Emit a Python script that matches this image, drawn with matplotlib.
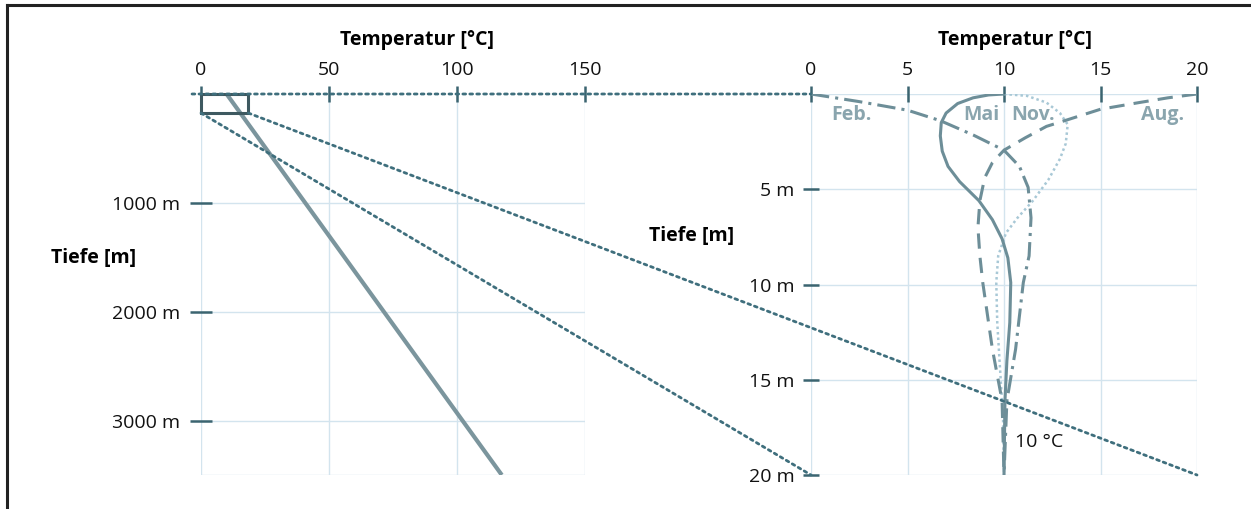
import matplotlib
matplotlib.use('Agg')
import matplotlib.pyplot as plt
from matplotlib.patches import Rectangle, ConnectionPatch
from matplotlib.lines import Line2D

plt.rcParams['font.family'] = ['Open Sans', 'DejaVu Sans']

# left panel: deep geothermal gradient
deep_temp = [10, 117.5]
deep_depth = [0, 3500]
left_xticks = [0, 50, 100, 150]
left_yticks = [1000, 2000, 3000]
left_ylabels = ['1000 m', '2000 m', '3000 m']
zoom_box = (0, 0, 18.5, 175)   # temp0, depth0, width, height

# right panel: seasonal profiles near the surface
feb_depth = [0, 0.4, 0.85, 1.4, 2.15, 2.95, 3.8, 4.9, 6.5, 8.5, 9.9, 13.4, 16.1, 20]
feb_temp = [0, 2.5, 5.0, 6.7, 8.4, 10.0, 10.8, 11.25, 11.4, 11.3, 11.0, 10.6, 10.15, 10.0]
mai_depth = [0, 0.05, 0.2, 0.5, 1.0, 1.5, 2.2, 3.0, 3.8, 4.6, 5.6, 6.6, 7.6, 8.6, 9.9,
             12, 14, 16.1, 20]
mai_temp = [10, 9.2, 8.4, 7.6, 7.0, 6.75, 6.7, 6.8, 7.1, 7.7, 8.7, 9.4, 9.9, 10.2, 10.35,
            10.3, 10.15, 10.05, 10.0]
aug_depth = [0, 0.2, 0.45, 0.8, 1.35, 1.7, 2.3, 2.95, 3.6, 4.4, 5.6, 7.0, 8.5, 9.9,
             13.4, 16.1, 20]
aug_temp = [20, 18.5, 17.0, 15.0, 13.3, 12.2, 11.1, 10.0, 9.4, 9.0, 8.75, 8.65, 8.75, 8.9,
            9.4, 9.9, 10.0]
nov_depth = [0, 0.1, 0.45, 1.0, 1.6, 2.6, 3.4, 4.5, 5.6, 6.5, 7.3, 8.5, 9.9, 12, 14.5,
             17, 20]
nov_temp = [10, 11.2, 12.2, 12.9, 13.3, 13.2, 12.9, 12.3, 11.5, 10.7, 10.1, 9.7, 9.6, 9.65,
            9.8, 9.95, 10.0]
month_names = ['Feb.', 'Mai', 'Nov.', 'Aug.']
month_label_x = [2.1, 8.8, 11.5, 18.2]
right_xticks = [0, 5, 10, 15, 20]
right_yticks = [5, 10, 15, 20]
right_ylabels = ['5 m', '10 m', '15 m', '20 m']

W, H = 1251, 509
tick_col = '#3b6470'
grid_col = '#d3e4ee'
curve_col = '#6d8e98'
dot_col = '#3f6f7d'

fig = plt.figure(figsize=(W / 100, H / 100), dpi=100)

def px_axes(x0, x1, y0, y1):
    return fig.add_axes([x0 / W, 1 - y1 / H, (x1 - x0) / W, (y1 - y0) / H])

axl = px_axes(201, 585, 94, 475)
axr = px_axes(811, 1197, 94, 475)

for ax in (axl, axr):
    for s in ax.spines.values():
        s.set_visible(False)
    ax.xaxis.tick_top()
    ax.set_facecolor('none')
    ax.tick_params(axis='x', direction='inout', length=11, width=1.8, color=tick_col,
                   labelsize=14, pad=5, labelcolor='#111111')

# left panel
axl.set_xlim(0, 150)
axl.set_ylim(3500, 0)
axl.set_xticks(left_xticks)
axl.set_yticks(left_yticks)
axl.set_yticklabels(left_ylabels)
axl.tick_params(axis='y', direction='inout', length=16, width=1.8, color=tick_col,
                labelsize=14, pad=7, labelcolor='#111111')
for x in left_xticks:
    axl.axvline(x, color=grid_col, lw=1, zorder=0)
for y in left_yticks + [3500]:
    axl.axhline(y, color=grid_col, lw=1, zorder=0)
axl.plot(deep_temp, deep_depth, color='#7b959d', lw=3, solid_capstyle='butt', zorder=3)
axl.add_patch(Rectangle((zoom_box[0], zoom_box[1]), zoom_box[2], zoom_box[3],
                        fill=False, ec='#3e5960', lw=2.2, zorder=4, clip_on=False))

# right panel
axr.set_xlim(0, 20)
axr.set_ylim(20, 0)
axr.set_xticks(right_xticks)
axr.set_yticks(right_yticks)
axr.set_yticklabels(right_ylabels)
axr.tick_params(axis='y', direction='inout', length=12, width=1.8, color=tick_col,
                labelsize=14, pad=6, labelcolor='#111111')
for x in right_xticks:
    axr.axvline(x, color=grid_col, lw=1, zorder=0)
for y in [0] + right_yticks:
    axr.axhline(y, color=grid_col, lw=1, zorder=0)

axr.plot(nov_temp, nov_depth, color='#a8c8d6', lw=1.8, ls=(0, (1, 1.2)), zorder=2)
axr.plot(mai_temp, mai_depth, color=curve_col, lw=2.2, zorder=3)
axr.plot(aug_temp, aug_depth, color=curve_col, lw=2.2, ls=(0, (5, 3)), zorder=3)
axr.plot(feb_temp, feb_depth, color=curve_col, lw=2.2, ls=(0, (6, 2, 1, 2)), zorder=3)
for name, x in zip(month_names, month_label_x):
    axr.text(x, 1.1, name, ha='center', va='center', fontsize=14, fontweight='bold',
             color='#8aa5ae', zorder=5)
axr.text(10.55, 18.27, '10 °C', ha='left', va='center', fontsize=14, color='#111111')

# connector lines between the zoom box and the right panel
for (xa, ya), (xb, yb) in [((-3.5, 0), (0, 0)),
                           ((zoom_box[0], zoom_box[3]), (0, 20)),
                           ((zoom_box[2], zoom_box[3]), (20, 20))]:
    con = ConnectionPatch(xyA=(xa, ya), coordsA=axl.transData,
                          xyB=(xb, yb), coordsB=axr.transData,
                          color=dot_col, lw=2, ls=(0, (1, 1.5)), zorder=6)
    fig.add_artist(con)

# headings
fig.text(417 / W, 1 - 40 / H, 'Temperatur [°C]', ha='center', va='center',
         fontsize=14, fontweight='bold')
fig.text(1015 / W, 1 - 40 / H, 'Temperatur [°C]', ha='center', va='center',
         fontsize=14, fontweight='bold')
fig.text(94 / W, 1 - 258 / H, 'Tiefe [m]', ha='center', va='center',
         fontsize=14, fontweight='bold')
fig.text(692 / W, 1 - 236 / H, 'Tiefe [m]', ha='center', va='center',
         fontsize=14, fontweight='bold')

# frame
fig.add_artist(Line2D([7 / W, 1], [1 - 5 / H, 1 - 5 / H], color='#222222', lw=2.2,
                      transform=fig.transFigure))
fig.add_artist(Line2D([7 / W, 7 / W], [1 - 5 / H, 0], color='#222222', lw=2.2,
                      transform=fig.transFigure))

fig.savefig('out.png', dpi=100)
